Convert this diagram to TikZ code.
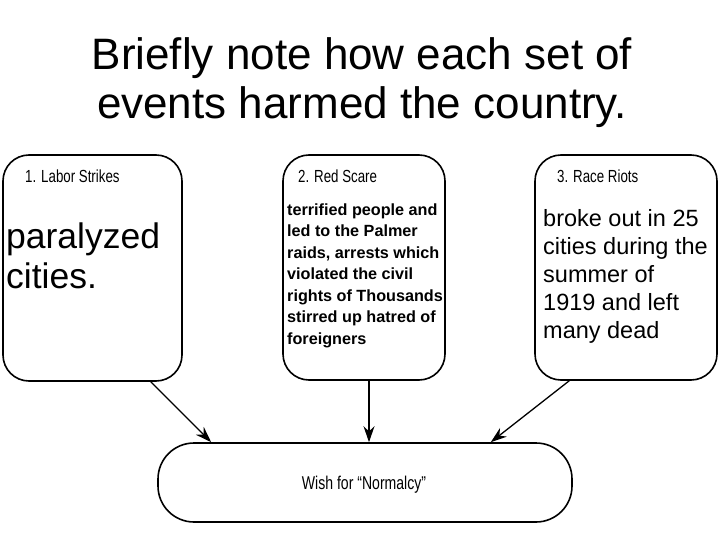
\documentclass[tikz,border=0pt]{standalone}
\usepackage{fontspec}
\setmainfont{Liberation Sans}
\newfontfamily\narrowfont[FakeStretch=0.76]{Liberation Sans}
\usetikzlibrary{positioning,arrows.meta,calc}

\begin{document}
\begin{tikzpicture}[
    x=1pt, y=-1pt,
    event/.style={draw, line width=1.6pt, rounded corners=26pt, inner sep=0pt},
    heading/.style={anchor=base west, inner sep=0pt, font=\narrowfont\fontsize{17.5}{20}\selectfont},
    body/.style={anchor=base west, inner sep=0pt, align=left},
    arrow/.style={-{Stealth[length=16pt, width=11pt]}, line width=1.3pt}
]
\useasboundingbox (0,0) rectangle (720,540);

% title (base anchor sits on the last line)
\node[inner sep=0pt, align=center, font=\fontsize{44}{49}\selectfont, anchor=base] (title) at (362,119)
    {Briefly note how each set of\\events harmed the country.};

% the three sets of events
\node[event, minimum width=179pt, minimum height=226pt] (strikes) at (92.5,268) {};
\node[event, minimum width=162pt, minimum height=225pt] (scare) at (364,267.5) {};
\node[event, minimum width=182pt, minimum height=225pt] (riots) at (626,267.5) {};

\node[heading] (strikeslbl) at (25,183) {1. Labor Strikes};
\node[heading] (scarelbl) at (298,183) {2. Red Scare};
\node[heading] (riotslbl) at (557,183) {3. Race Riots};

\node[body, font=\fontsize{35.5}{40}\selectfont] (strikestxt) at (6,288) {paralyzed\\cities.};
\node[body, font=\bfseries\fontsize{16.2}{21.5}\selectfont] (scaretxt) at (287,344)
    {terrified people and\\led to the Palmer\\raids, arrests which\\violated the civil\\rights of Thousands\\stirred up hatred of\\foreigners};
\node[body, font=\fontsize{23.5}{28}\selectfont] (riotstxt) at (543,338)
    {broke out in 25\\cities during the\\summer of\\1919 and left\\many dead};

% result
\node[event, rounded corners=36pt, minimum width=414pt, minimum height=79pt] (wish) at (365,482.5) {};
\node[inner sep=0pt, font=\narrowfont\fontsize{18.5}{20}\selectfont] (wishlbl) at (364,485) {Wish for “Normalcy”};

\draw[arrow] ([xshift=-32pt]strikes.south east) -- ([xshift=54pt]wish.north west);
\draw[arrow] ([xshift=5pt]scare.south) -- ([xshift=5pt]scare.south |- wish.north);
\draw[arrow] ([xshift=35pt]riots.south west) -- ([xshift=-82pt]wish.north east);

\end{tikzpicture}
\end{document}
